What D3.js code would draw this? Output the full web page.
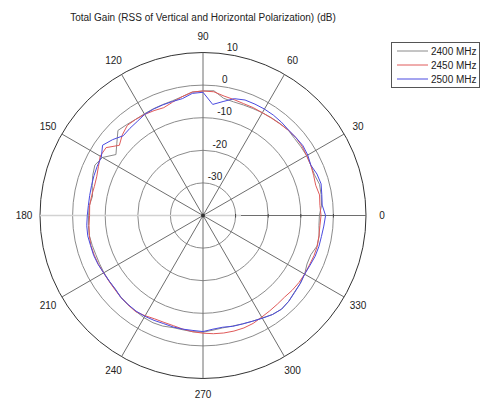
<!DOCTYPE html>
<html>
    <head>
        <meta charset="utf-8">
        <script type="text/javascript" src="https://cdn.jsdelivr.net/npm/d3@7"></script>
        <style>
        body {
            margin: 0;
            background: #fff;
        }
        text {
            font-family: "Liberation Sans", Arial, sans-serif;
            font-size: 10px;
            fill: #222;
        }
        .ring {
            fill: none;
            stroke: #8c8c8c;
        }
        .spoke {
            stroke: #6e6e6e;
        }
        .trace {
            fill: none;
            stroke-width: 1;
        }
        </style>
    </head>
    <body>
        <script type="text/javascript">
        // angles in degrees, 0 = right, counter clockwise
        var angles = d3.range(0, 360, 5);

        // gain in dB, one value per angle
        var gain2400 = [-4.3, -3.5, -3.2, -3.0, -3.6, -3.5, -3.3, -3.3, -3.3, -3.0, -3.2, -3.4,
                        -3.6, -3.8, -3.9, -3.9, -3.5, -1.6, -1.8, -2.0, -3.0, -3.6, -3.8, -3.9,
                        -4.0, -4.0, -3.6, -3.1, -5.5, -7.4, -4.4, -3.4, -4.0, -4.8, -5.6, -5.0,
                        -4.9, -4.7, -4.6, -4.8, -5.0, -5.0, -4.9, -4.9, -4.8, -4.5, -4.3, -4.1,
                        -3.8, -3.7, -3.9, -4.4, -4.4, -4.2, -4.2, -4.7, -5.0, -4.9, -4.6, -4.2,
                        -3.7, -2.9, -2.5, -2.8, -3.4, -3.6, -4.0, -4.8, -4.8, -3.8, -3.8, -4.3];
        var gain2450 = [-3.8, -4.0, -3.7, -4.2, -3.9, -3.5, -3.3, -2.9, -2.8, -3.0, -3.3, -3.5,
                        -3.6, -3.5, -3.5, -3.2, -2.8, -1.9, -1.8, -2.0, -3.0, -4.0, -4.8, -4.5,
                        -4.2, -4.0, -3.9, -5.0, -6.5, -3.7, -3.6, -4.6, -5.3, -5.5, -5.3, -5.1,
                        -5.2, -4.9, -4.6, -4.4, -4.5, -4.6, -4.8, -4.8, -4.7, -4.4, -4.2, -4.0,
                        -4.5, -5.0, -5.1, -5.0, -4.6, -4.2, -3.9, -3.6, -3.4, -3.3, -3.3, -3.5,
                        -4.0, -4.3, -4.5, -4.6, -4.3, -4.1, -4.0, -4.0, -3.8, -3.7, -3.9, -4.0];
        var gain2500 = [-2.4, -3.3, -3.0, -2.5, -2.8, -3.5, -2.9, -2.6, -2.8, -2.9, -2.6, -2.4,
                        -2.3, -2.3, -2.3, -2.9, -4.5, -5.8, -2.2, -2.4, -3.6, -3.8, -3.9, -4.0,
                        -4.2, -4.8, -5.1, -5.4, -3.8, -2.4, -4.0, -4.2, -4.4, -4.6, -4.7, -4.7,
                        -4.5, -4.2, -4.1, -4.3, -4.3, -4.5, -4.8, -4.9, -4.9, -4.4, -4.3, -4.2,
                        -4.3, -4.5, -4.7, -4.6, -4.6, -4.6, -4.4, -5.0, -5.2, -4.8, -4.6, -4.2,
                        -3.6, -2.9, -2.5, -2.8, -3.3, -3.6, -4.0, -3.8, -3.4, -3.2, -3.1, -2.8];

        var seriesNames = ["2400 MHz", "2450 MHz", "2500 MHz"];
        var seriesColors = ["#8a8a8a", "#e05a5a", "#4a4ae0"];
        var ringTicks = [-30, -20, -10, 0, 10];
        var angleTicks = d3.range(0, 360, 30);
        var title = "Total Gain (RSS of Vertical and Horizontal Polarization) (dB)";

        var width = 487,
            height = 401,
            cx = 203,
            cy = 215.5,
            outerR = 163;

        var rScale = d3.scaleLinear()
                       .domain([-40, 10])
                       .range([0, outerR]);

        // d3 radial angle: clockwise from 12 o'clock
        var aScale = d3.scaleLinear()
                       .domain([0, 360])
                       .range([Math.PI / 2, Math.PI / 2 - 2 * Math.PI]);

        var svg = d3.select("body")
                    .append("svg")
                    .attr("width", width)
                    .attr("height", height);

        svg.append("rect")
            .attr("width", width)
            .attr("height", height)
            .attr("fill", "#fff");

        svg.append("text")
            .attr("x", cx)
            .attr("y", 20.5)
            .attr("text-anchor", "middle")
            .text(title);

        var g = svg.append("g")
                   .attr("transform", "translate(" + cx + "," + cy + ")");

        // rings
        g.selectAll(".ring")
            .data(ringTicks)
          .enter().append("circle")
            .attr("class", "ring")
            .attr("r", function(d) { return rScale(d); })
            .style("stroke", function(d) { return d == 10 ? "#333" : "#8c8c8c"; });

        // spokes
        function px(deg, r) { return r * Math.cos(deg * Math.PI / 180); }
        function py(deg, r) { return -r * Math.sin(deg * Math.PI / 180); }

        g.selectAll(".spoke")
            .data(angleTicks.filter(function(d) { return d != 180; }))
          .enter().append("line")
            .attr("class", "spoke")
            .attr("x1", 0)
            .attr("y1", 0)
            .attr("x2", function(d) { return px(d, outerR); })
            .attr("y2", function(d) { return py(d, outerR); });

        // light horizontal axis line
        g.append("line")
            .attr("x1", -outerR)
            .attr("x2", 38)
            .attr("y1", 0)
            .attr("y2", 0)
            .attr("stroke", "#d2d2d2")
            .attr("stroke-width", 1.5);

        // small ticks where the axis meets the rings
        g.selectAll(".tick")
            .data(ringTicks.slice(0, 4))
          .enter().append("line")
            .attr("x1", function(d) { return rScale(d); })
            .attr("x2", function(d) { return rScale(d); })
            .attr("y1", -1.5)
            .attr("y2", 2)
            .attr("stroke", "#444");

        g.append("circle")
            .attr("r", 2)
            .attr("fill", "#333");

        // angle labels
        g.selectAll(".alabel")
            .data(angleTicks)
          .enter().append("text")
            .attr("x", function(d) { return px(d, 179); })
            .attr("y", function(d) { return py(d, 179); })
            .attr("dy", "0.35em")
            .attr("text-anchor", "middle")
            .text(function(d) { return d; });

        // ring labels
        g.selectAll(".rlabel")
            .data(ringTicks)
          .enter().append("text")
            .attr("x", function(d) { return px(81.6, rScale(d)); })
            .attr("y", function(d) { return py(81.6, rScale(d)) - 3.5; })
            .text(function(d) { return d; });

        // traces
        var line = d3.lineRadial()
                     .angle(function(d) { return aScale(d[0]); })
                     .radius(function(d) { return rScale(d[1]); })
                     .curve(d3.curveLinearClosed);

        var allSeries = [gain2400, gain2450, gain2500];
        allSeries.forEach(function(vals, i) {
            g.append("path")
                .datum(angles.map(function(a, j) { return [a, vals[j]]; }))
                .attr("class", "trace")
                .attr("stroke", seriesColors[i])
                .attr("d", line);
        });

        // legend
        var legend = svg.append("g")
                        .attr("transform", "translate(391,42)");

        legend.append("rect")
            .attr("x", 0.5)
            .attr("y", 0.5)
            .attr("width", 88)
            .attr("height", 45)
            .attr("fill", "#fff")
            .attr("stroke", "#555");

        seriesNames.forEach(function(name, i) {
            legend.append("line")
                .attr("x1", 6)
                .attr("x2", 37)
                .attr("y1", 9 + i * 14)
                .attr("y2", 9 + i * 14)
                .attr("stroke", seriesColors[i]);
            legend.append("text")
                .attr("x", 40)
                .attr("y", 12.5 + i * 14)
                .text(name);
        });
        </script>
    </body>
</html>
